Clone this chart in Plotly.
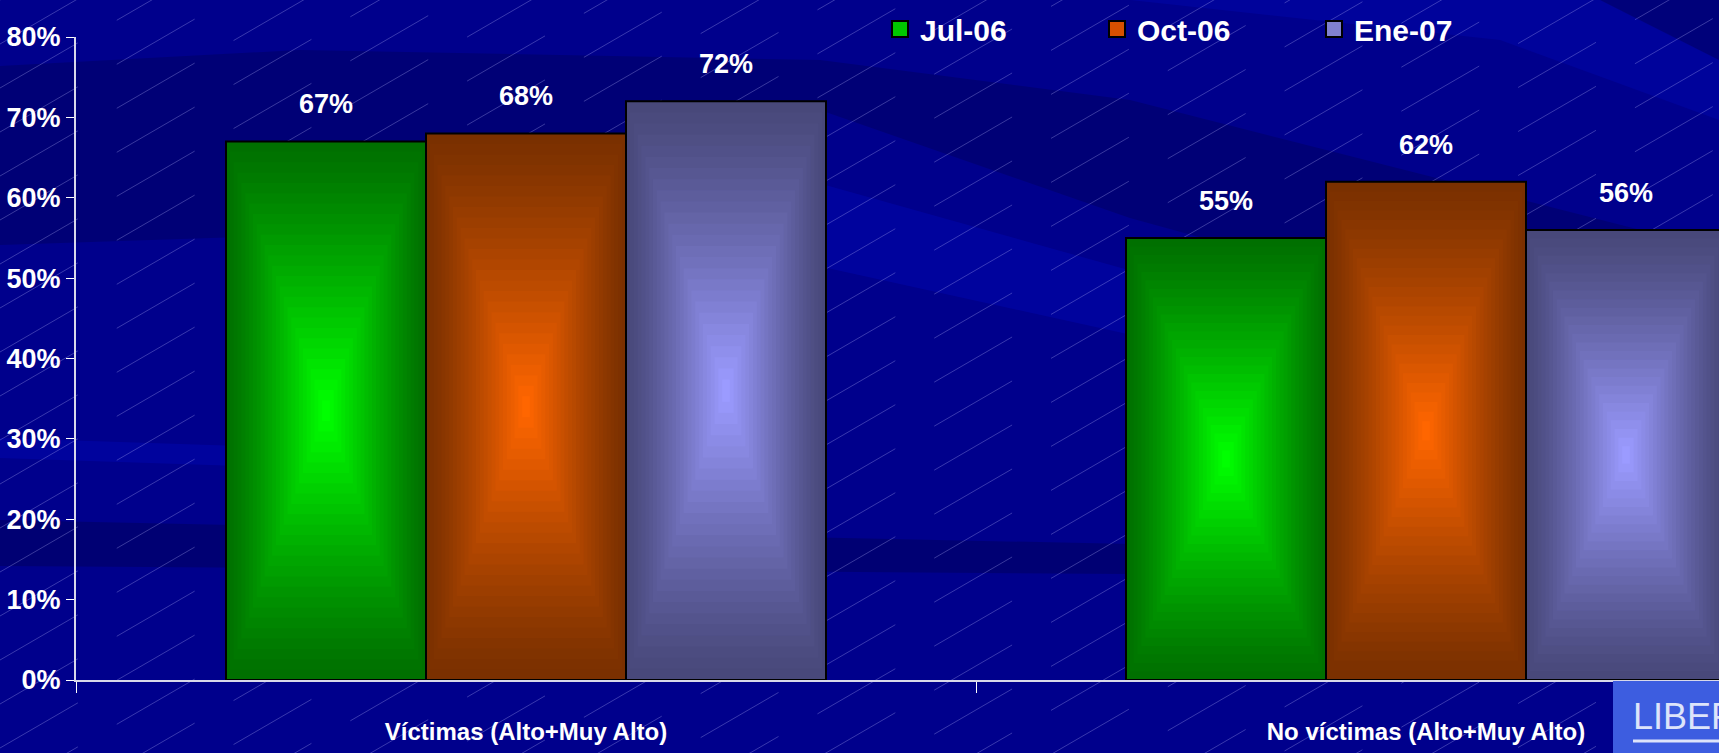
import plotly.graph_objects as go

# data
categories = ["Víctimas (Alto+Muy Alto)", "No víctimas (Alto+Muy Alto)"]
series_names = ["Jul-06", "Oct-06", "Ene-07"]
jul_06 = [67, 55]
oct_06 = [68, 62]
ene_07 = [72, 56]
series_values = [jul_06, oct_06, ene_07]
y_ticks = [0, 10, 20, 30, 40, 50, 60, 70, 80]
y_tick_text = ["%d%%" % v for v in y_ticks]

# styling
W, H = 1719, 753
ML, MR, MT, MB = 76, 0, 37, 73
PW, PH = W - ML - MR, H - MT - MB
FONT = "Liberation Sans Narrow, Arial Narrow, Liberation Sans, Arial, sans-serif"
edge_cols = [(0, 112, 0), (122, 48, 0), (72, 72, 122)]
mid_cols = [(0, 255, 0), (255, 102, 0), (155, 155, 255)]
legend_cols = ["#00c800", "#d85000", "#8080d0"]
bar_w = 2 / 9
offsets = [-bar_w, 0, bar_w]
LEVELS = 26


def px(x, y):
    return (x - ML) / PW, (H - MB - y) / PH


def rgb(c):
    return "rgb(%d,%d,%d)" % tuple(int(round(v)) for v in c)


def mix(a, b, t):
    return tuple(a[i] + (b[i] - a[i]) * t for i in range(3))


fig = go.Figure()

# bars as nested rectangles -> "from centre" gradient fill
for j, vals in enumerate(series_values):
    for k in range(LEVELS):
        s = 1 - k / LEVELS
        t = (k / (LEVELS - 1)) ** 1.2
        w = bar_w * s
        fig.add_trace(go.Bar(
            x=categories,
            y=[v * s for v in vals],
            base=[v * (1 - s) / 2 for v in vals],
            width=[w] * len(vals),
            offset=[offsets[j] - w / 2] * len(vals),
            marker=dict(color=rgb(mix(edge_cols[j], mid_cols[j], t)),
                        line=dict(color="black", width=2 if k == 0 else 0)),
            showlegend=False,
            hoverinfo="skip",
        ))

# legend entries
for j, name in enumerate(series_names):
    fig.add_trace(go.Scatter(
        x=[None], y=[None], name=name, mode="markers",
        marker=dict(symbol="square", size=16, color=legend_cols[j],
                    line=dict(color="black", width=2)),
    ))

# value labels
for j, vals in enumerate(series_values):
    for i, v in enumerate(vals):
        fig.add_annotation(x=i + offsets[j], y=v, text="%d%%" % v,
                           showarrow=False, yanchor="middle", yshift=37,
                           font=dict(family=FONT, size=27, color="white", weight="bold"))

# background bands
shapes = []
bands = [
    ([(0, 66), (300, 50), (820, 60), (1130, 100), (1719, 250), (1719, 380), (1130, 218), (820, 110), (300, 235), (0, 245)], "rgba(0,0,60,0.28)"),
    ([(700, 150), (1200, 290), (1200, 350), (700, 240)], "rgba(0,10,200,0.3)"),
    ([(0, 438), (240, 446), (240, 466), (0, 458)], "rgba(0,10,200,0.3)"),
    ([(0, 520), (1130, 544), (1130, 574), (0, 566)], "rgba(0,0,60,0.3)"),
    ([(1130, 0), (1719, 0), (1719, 120), (1500, 40)], "rgba(0,10,200,0.25)"),
    ([(1600, 0), (1719, 0), (1719, 60)], "rgba(0,0,60,0.35)"),
]
for pts, col in bands:
    path = "M " + " L ".join("%.4f,%.4f" % px(x, y) for x, y in pts) + " Z"
    shapes.append(dict(type="path", xref="paper", yref="paper", path=path,
                       fillcolor=col, line=dict(width=0), layer="below"))

# thin diagonal hatch
slope = 0.58
c = 0
while c < H + slope * W + 50:
    x0, y0 = px(0, c)
    x1, y1 = px(W, c - slope * W)
    shapes.append(dict(type="line", xref="paper", yref="paper", x0=x0, y0=y0, x1=x1, y1=y1,
                       line=dict(color="rgba(190,190,255,0.3)", width=1, dash="90px,45px"),
                       layer="below"))
    c += 44

# logo box bottom right
bx0, by0 = px(1613, 681)
bx1, by1 = px(W, H)
shapes.append(dict(type="rect", xref="paper", yref="paper", x0=bx0, y0=by0, x1=bx1, y1=by1,
                   fillcolor="#3d5de0", line=dict(width=0), layer="above"))
lx0, ly0 = px(1633, 741)
shapes.append(dict(type="line", xref="paper", yref="paper", x0=lx0, y0=ly0, x1=1.0, y1=ly0,
                   line=dict(color="#dde4fa", width=3), layer="above"))
tx, ty = px(1631, 716)
fig.add_annotation(xref="paper", yref="paper", x=tx, y=ty, text="LIBERTAD",
                   showarrow=False, xanchor="left", yanchor="middle",
                   font=dict(family="Liberation Sans, Arial, sans-serif", size=36, color="#dde4fa"))
tx2, ty2 = px(1633, 765)
fig.add_annotation(xref="paper", yref="paper", x=tx2, y=ty2, text="DESARROLLO",
                   showarrow=False, xanchor="left", yanchor="middle",
                   font=dict(family="Liberation Sans, Arial, sans-serif", size=30, color="#dde4fa"))

fig.update_layout(
    width=W, height=H,
    margin=dict(l=ML, r=MR, t=MT, b=MB),
    paper_bgcolor="#00008c",
    plot_bgcolor="rgba(0,0,0,0)",
    barmode="overlay",
    shapes=shapes,
    showlegend=True,
    legend=dict(orientation="h", x=(880 - ML) / PW, xanchor="left",
                y=1 + 8 / PH, yanchor="middle", entrywidth=172, entrywidthmode="pixels",
                bgcolor="rgba(0,0,0,0)", itemsizing="trace",
                font=dict(family=FONT, size=30, color="white", weight="bold")),
    xaxis=dict(range=[-0.5, -0.5 + PW / 900], tickson="boundaries", ticks="outside",
               ticklen=11, tickcolor="white", showline=True, linecolor="#d8d8ea", linewidth=2,
               showgrid=False, zeroline=False, ticklabelstandoff=29,
               tickfont=dict(family=FONT, size=24, color="white", weight="bold")),
    yaxis=dict(range=[0, 80], tickvals=y_ticks, ticktext=y_tick_text, ticks="outside", ticklen=8,
               tickcolor="white", showline=True, linecolor="#d8d8ea", linewidth=2,
               showgrid=False, zeroline=False,
               tickfont=dict(family=FONT, size=27, color="white", weight="bold")),
)

fig.write_html("out.html", config={"displayModeBar": False},
               post_script="document.body.style.margin='0';")
